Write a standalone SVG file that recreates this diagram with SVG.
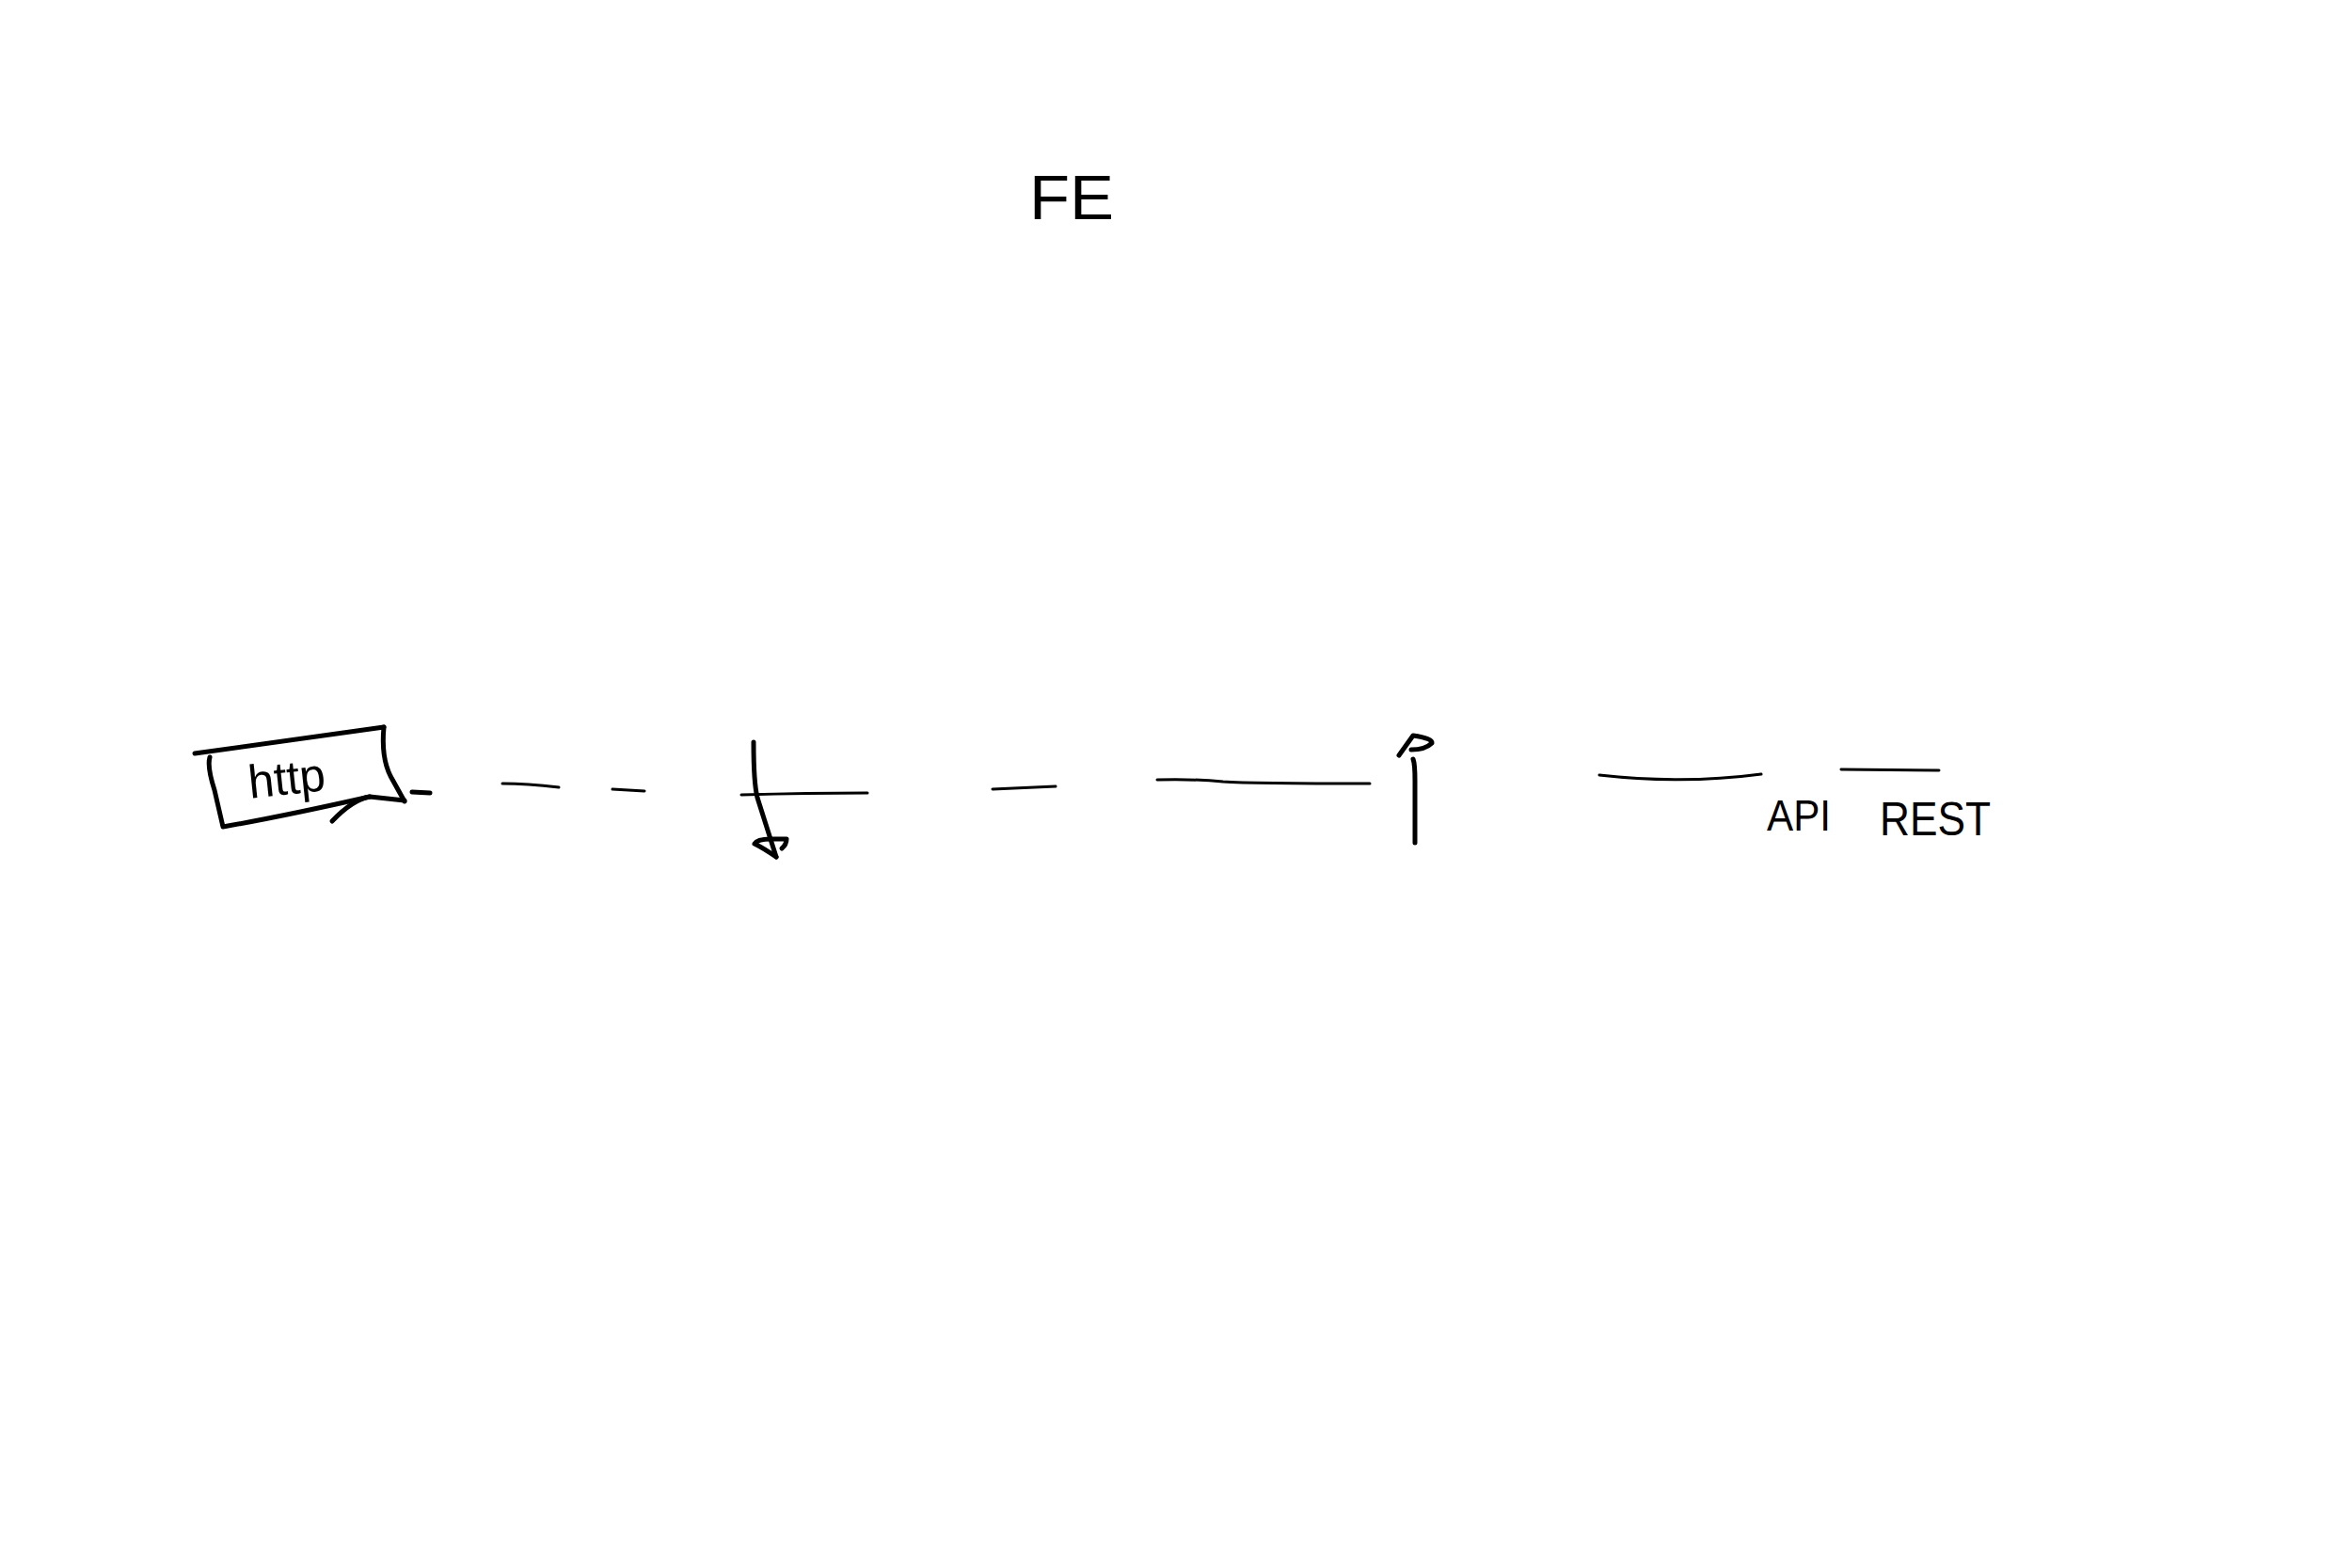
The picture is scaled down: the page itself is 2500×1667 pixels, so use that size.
<svg xmlns="http://www.w3.org/2000/svg" width="2500" height="1667" viewBox="0 0 2500 1667">
<style>
.ink{fill:none;stroke:#000;stroke-linecap:round;stroke-linejoin:round}
.thick{stroke-width:5}
.thin{stroke-width:3}
.lbl{font-family:"Liberation Sans",Arial,sans-serif;fill:#000}
</style>
<rect width="2500" height="1667" fill="#fff"/>
<g id="node-fe">
<text class="lbl" x="1094" y="233" font-size="66" textLength="90" lengthAdjust="spacingAndGlyphs">FE</text>
</g>
<g id="node-http">
<path class="ink thick" d="M207,801 L408,773"/>
<path class="ink thick" d="M408,773 Q405,805 415,825 Q425,843 430,852"/>
<path class="ink thick" d="M223,805 Q220,815 228,840 L237,879 Q300,868 393,847 L430,851"/>
<path class="ink thick" d="M353,873 Q375,850 393,847"/>
<path class="ink thick" d="M438,842 L457,843"/>
<text class="lbl" x="264" y="845" font-size="50" transform="rotate(-6 300 830)" textLength="82" lengthAdjust="spacingAndGlyphs">http</text>
</g>
<g id="connectors">
<path class="ink thin" d="M534,833 Q560,833 594,837"/>
<path class="ink thin" d="M651,839 L685,841"/>
<path class="ink thin" d="M788,845 Q860,843 922,843"/>
<path class="ink thick" d="M801,789 Q801,832 805,848 L825,911"/>
<path class="ink thick" d="M825,911 Q812,902 802,897 Q805,892 819,892 L836,892 Q836,898 831,902"/>
<path class="ink thin" d="M1055,839 L1122,836"/>
<path class="ink thin" d="M1230,829 Q1270,828 1300,831 Q1330,833 1456,833"/>
<path class="ink thick" d="M1502,807 Q1504,812 1504,830 L1504,896"/>
<path class="ink thick" d="M1487,803 L1502,782 Q1523,785 1522,790 Q1515,797 1500,797"/>
<path class="ink thin" d="M1700,824 Q1790,834 1872,823"/>
<path class="ink thin" d="M1957,818 L2061,819"/>
</g>
<g id="node-api-rest">
<text class="lbl" x="1878" y="883" font-size="46" textLength="68" lengthAdjust="spacingAndGlyphs">API</text>
<text class="lbl" x="1998" y="888" font-size="50" textLength="118" lengthAdjust="spacingAndGlyphs">REST</text>
</g>
</svg>
